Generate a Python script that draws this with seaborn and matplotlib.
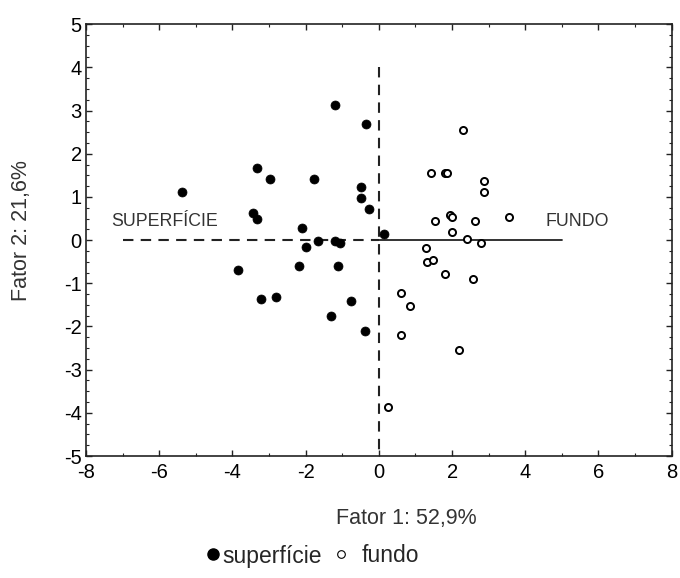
import matplotlib
matplotlib.use("Agg")
import matplotlib.pyplot as plt
from matplotlib.lines import Line2D
from matplotlib.ticker import MultipleLocator
import seaborn as sns
import pandas as pd

# Factor scores, surface samples
sup_x = [-1.20, -0.34, -3.32, -2.96, -1.78, -5.39, -0.49, -0.49, -0.27, -3.45,
         -3.32, -2.09, -1.99, -1.67, -1.20, -1.05, -3.84, -2.19, -1.11, -3.22,
         -2.81, -0.75, -1.31, -0.38, 0.14]
sup_y = [3.13, 2.68, 1.68, 1.42, 1.42, 1.11, 1.24, 0.98, 0.72, 0.62,
         0.50, 0.29, -0.16, -0.03, -0.03, -0.07, -0.69, -0.60, -0.60, -1.36,
         -1.32, -1.40, -1.76, -2.10, 0.14]

# Factor scores, bottom samples
fun_x = [2.31, 1.42, 1.80, 1.86, 2.88, 2.88, 1.54, 1.94, 2.00, 2.62,
         3.56, 2.00, 2.41, 2.78, 1.28, 1.32, 1.48, 1.80, 2.57, 0.60,
         0.86, 0.60, 2.20, 0.24]
fun_y = [2.55, 1.55, 1.55, 1.55, 1.37, 1.11, 0.45, 0.59, 0.54, 0.45,
         0.54, 0.19, 0.02, -0.07, -0.19, -0.51, -0.47, -0.78, -0.91, -1.22,
         -1.53, -2.19, -2.54, -3.86]

group_names = ["superfície", "fundo"]
axis_labels = ["Fator 1: 52,9%", "Fator 2: 21,6%"]
direction_labels = ["SUPERFÍCIE", "FUNDO"]

sns.set_style("ticks")
plt.rcParams["font.family"] = ["Liberation Sans", "DejaVu Sans"]
plt.rcParams["axes.unicode_minus"] = False

sup = pd.DataFrame({"f1": sup_x, "f2": sup_y})
fun = pd.DataFrame({"f1": fun_x, "f2": fun_y})

fig = plt.figure(figsize=(6.8, 5.78), dpi=100)
ax = fig.add_axes([86 / 680, 1 - 456 / 578, (671.7 - 86) / 680, (456 - 24.3) / 578])

# direction axes through the origin
ax.plot([-7, 0], [0, 0], color="#222222", lw=1.5, ls=(0, (5, 3.5)), zorder=1)
ax.plot([0, 0], [4, -5], color="#222222", lw=1.5, ls=(0, (5, 3.5)), zorder=1)
ax.plot([0, 5], [0, 0], color="#222222", lw=1.3, zorder=1)

sns.scatterplot(data=sup, x="f1", y="f2", ax=ax, s=42, color="black",
                edgecolor="black", linewidth=0.5, legend=False, zorder=3)
sns.scatterplot(data=fun, x="f1", y="f2", ax=ax, s=26, facecolor="white",
                edgecolor="black", linewidth=1.4, legend=False, zorder=3)

ax.text(-7.3, 0.43, direction_labels[0], fontsize=12.8, color="#333333",
        ha="left", va="center")
ax.text(4.55, 0.43, direction_labels[1], fontsize=12.8, color="#333333",
        ha="left", va="center")

ax.set_xlim(-8, 8)
ax.set_ylim(-5, 5)
ax.xaxis.set_major_locator(MultipleLocator(2))
ax.xaxis.set_minor_locator(MultipleLocator(1))
ax.yaxis.set_major_locator(MultipleLocator(1))
ax.yaxis.set_minor_locator(MultipleLocator(0.25))
ax.tick_params(which="both", direction="in", top=True, right=True,
               labelsize=14.5, labelcolor="black", color="#222222")
ax.tick_params(which="major", length=4, width=1)
ax.tick_params(axis="x", which="major", pad=5)
ax.tick_params(axis="y", which="major", pad=3)
ax.tick_params(which="minor", length=2, width=0.8)
for sp in ax.spines.values():
    sp.set_linewidth(1.2)
    sp.set_color("#222222")

ax.set_xlabel(axis_labels[0], fontsize=15.5, color="#333333")
ax.set_ylabel(axis_labels[1], fontsize=15.5, color="#333333")
ax.xaxis.set_label_coords((406 - 86) / 585.7, (456 - 508) / 431.7)
ax.yaxis.set_label_coords((32 - 86) / 585.7, (456 - 231) / 431.7)

leg_font = 16.5
em = leg_font * 100 / 72
legend_specs = [
    (Line2D([], [], marker="o", ls="", markersize=8, markerfacecolor="black",
            markeredgecolor="black"), group_names[0], 207, 0.15),
    (Line2D([], [], marker="o", ls="", markersize=5.5, markerfacecolor="white",
            markeredgecolor="black", markeredgewidth=0.8), group_names[1], 335, 0.65),
]
for handle, name, left_px, pad in legend_specs:
    fig.legend([handle], [name], loc="center left",
               bbox_to_anchor=(left_px / 680, 1 - 556 / 578), frameon=False,
               fontsize=leg_font, handletextpad=pad, handlelength=12 / em,
               borderpad=0, borderaxespad=0)

fig.savefig("out.png", dpi=100)
